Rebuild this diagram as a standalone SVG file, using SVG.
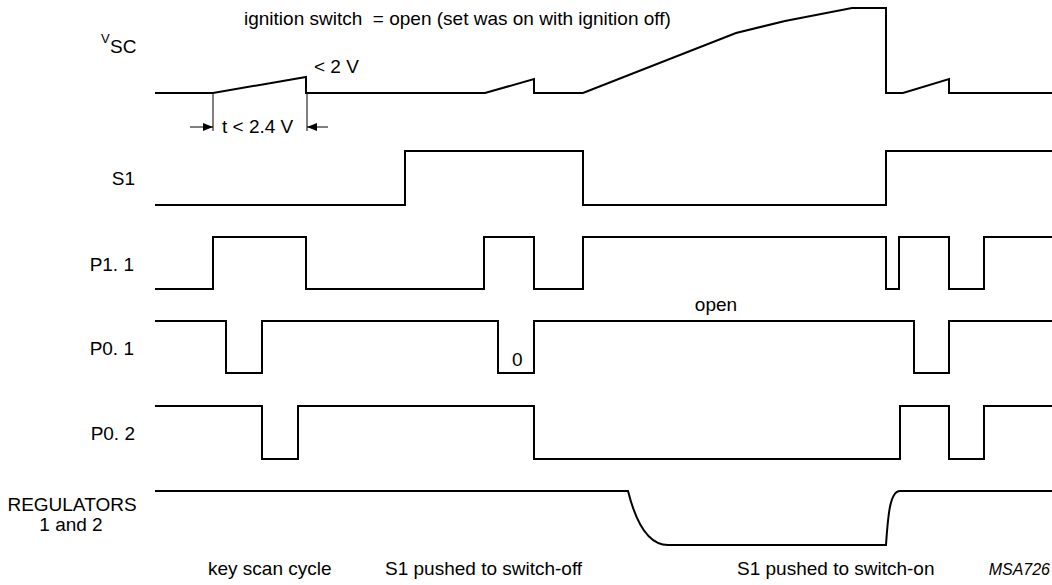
<svg xmlns="http://www.w3.org/2000/svg" width="1052" height="585" viewBox="0 0 1052 585">
<defs>
<style>
.sig{fill:none;stroke:#000;stroke-width:2;stroke-linejoin:miter}
.thin{fill:none;stroke:#000;stroke-width:1}
text{font-family:"Liberation Sans",Arial,sans-serif;font-size:19px;fill:#000;white-space:pre}
.lbl{text-anchor:end}
.mid{text-anchor:middle}
.ref{font-style:italic;font-size:16px;text-anchor:end}
</style>
<marker id="ah" viewBox="0 0 10 8" refX="10" refY="4" markerWidth="10" markerHeight="8" markerUnits="userSpaceOnUse" orient="auto">
<path d="M0,0 L10,4 L0,8 Z" fill="#000"/>
</marker>
</defs>
<rect width="1052" height="585" fill="#fff"/>
<text x="244" y="25">ignition switch  = open (set was on with ignition off)</text>
<g id="vsc">
<text x="101" y="43" style="font-size:13px">V</text>
<text x="110" y="53">SC</text>
<path class="sig" d="M155,93 H213 L306,77 V93 H485 L534,79 V93 H583 L736,33 L785,21 L852,8 H886 V93 H903 L949,79 V93 H1052"/>
<text x="314" y="73">&lt; 2 V</text>
</g>
<g id="s1">
<text class="lbl" x="135" y="185">S1</text>
<path class="sig" d="M155,205 H405 V151 H583 V205 H886 V151 H1052"/>
</g>
<g id="p11">
<text class="lbl" x="134" y="271">P1. 1</text>
<path class="sig" d="M155,289 H213 V237 H306 V289 H484 V237 H534 V289 H583 V237 H886 V289 H899 V237 H949 V289 H984 V237 H1052"/>
</g>
<g id="p01">
<text class="lbl" x="134" y="355">P0. 1</text>
<path class="sig" d="M155,321 H226 V373 H262 V321 H498 V373 H534 V321 H914 V373 H949 V321 H1052"/>
<text x="512" y="366">0</text>
<text class="mid" x="716" y="311">open</text>
</g>
<g id="p02">
<text class="lbl" x="135" y="440">P0. 2</text>
<path class="sig" d="M155,406 H262 V459 H298 V406 H534 V459 H900 V406 H949 V459 H984 V406 H1052"/>
</g>
<g id="regulators">
<text class="mid" x="72" y="511">REGULATORS</text>
<text class="mid" x="71" y="531">1 and 2</text>
<path class="sig" d="M155,491 H628 C634,515 645,545 668,545 H886 C888,515 890,491 900,491 H1052"/>
</g>
<g id="connectors">
<path class="thin" d="M213,93 V131 M307,93 V131"/>
<path class="thin" d="M190,127 H213" marker-end="url(#ah)"/>
<path class="thin" d="M328,127 H307" marker-end="url(#ah)"/>
<text x="222" y="133">t &lt; 2.4 V</text>
</g>
<g id="captions">
<text x="208" y="575">key scan cycle</text>
<text x="385" y="575">S1 pushed to switch-off</text>
<text x="737" y="575">S1 pushed to switch-on</text>
<text class="ref" x="1050" y="575">MSA726</text>
</g>
</svg>
